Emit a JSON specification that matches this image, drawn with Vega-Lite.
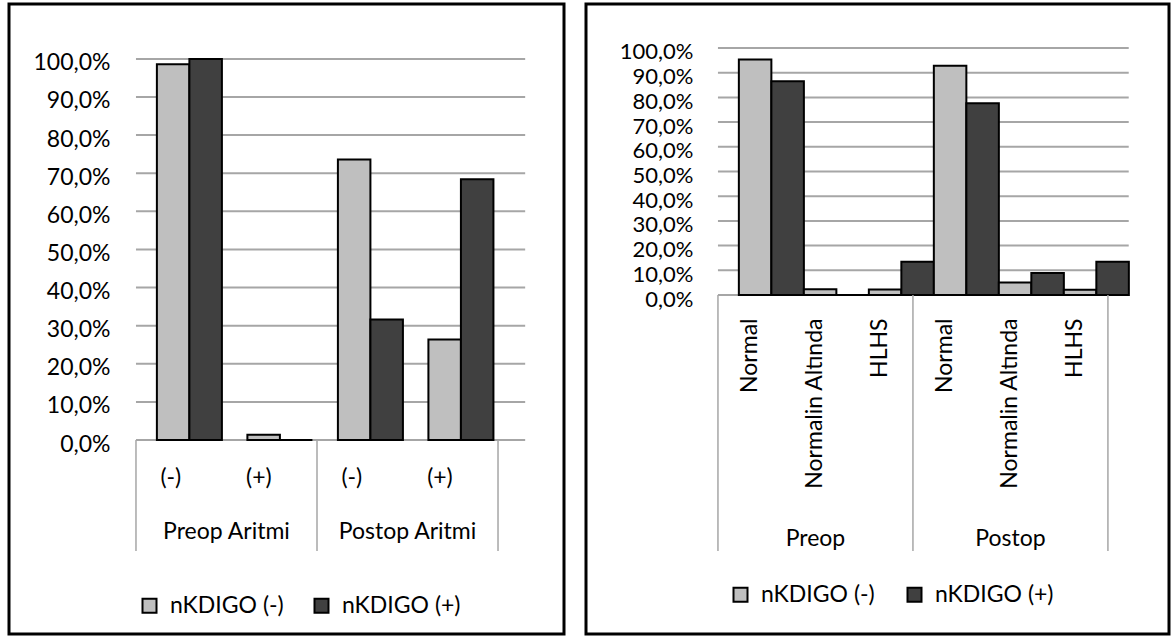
{
  "$schema": "https://vega.github.io/schema/vega-lite/v6.json",
  "padding": {"left": 7, "top": 2, "right": 0, "bottom": 0},
  "spacing": 18,
  "config": {
    "font": "Lato",
    "view": {"stroke": "#000000", "strokeWidth": 3},
    "axis": {"labelFont": "Lato", "labelColor": "#000000"},
    "legend": {"labelFont": "Lato", "labelColor": "#000000"}
  },
  "datasets": {
    "one": [{}],
    "ticks": [{"t": 0}, {"t": 0.1}, {"t": 0.2}, {"t": 0.3}, {"t": 0.4}, {"t": 0.5}, {"t": 0.6}, {"t": 0.7}, {"t": 0.8}, {"t": 0.9}, {"t": 1.0}],
    "left": [
      {"key": "Preop Aritmi|(-)", "series": "nKDIGO (-)", "value": 0.986},
      {"key": "Preop Aritmi|(-)", "series": "nKDIGO (+)", "value": 1.0},
      {"key": "Preop Aritmi|(+)", "series": "nKDIGO (-)", "value": 0.014},
      {"key": "Preop Aritmi|(+)", "series": "nKDIGO (+)", "value": 0.0},
      {"key": "Postop Aritmi|(-)", "series": "nKDIGO (-)", "value": 0.736},
      {"key": "Postop Aritmi|(-)", "series": "nKDIGO (+)", "value": 0.316},
      {"key": "Postop Aritmi|(+)", "series": "nKDIGO (-)", "value": 0.264},
      {"key": "Postop Aritmi|(+)", "series": "nKDIGO (+)", "value": 0.684}
    ],
    "right": [
      {"key": "Preop|Normal", "series": "nKDIGO (-)", "value": 0.953},
      {"key": "Preop|Normal", "series": "nKDIGO (+)", "value": 0.865},
      {"key": "Preop|Normalin Altında", "series": "nKDIGO (-)", "value": 0.023},
      {"key": "Preop|Normalin Altında", "series": "nKDIGO (+)", "value": 0.0},
      {"key": "Preop|HLHS", "series": "nKDIGO (-)", "value": 0.022},
      {"key": "Preop|HLHS", "series": "nKDIGO (+)", "value": 0.135},
      {"key": "Postop|Normal", "series": "nKDIGO (-)", "value": 0.928},
      {"key": "Postop|Normal", "series": "nKDIGO (+)", "value": 0.776},
      {"key": "Postop|Normalin Altında", "series": "nKDIGO (-)", "value": 0.051},
      {"key": "Postop|Normalin Altında", "series": "nKDIGO (+)", "value": 0.089},
      {"key": "Postop|HLHS", "series": "nKDIGO (-)", "value": 0.021},
      {"key": "Postop|HLHS", "series": "nKDIGO (+)", "value": 0.135}
    ]
  },
  "resolve": {"scale": {"color": "independent"}, "legend": {"color": "independent"}},
  "hconcat": [
    {
      "width": 555,
      "height": 630,
      "layer": [
        {
          "data": {"name": "ticks"},
          "mark": {"type": "rule", "color": "#a6a6a6", "strokeWidth": 2},
          "encoding": {
            "y": {"field": "t", "type": "quantitative", "title": null,
              "scale": {"domain": [-0.509, 1.144], "nice": false, "zero": false},
              "axis": {"values": [0, 0.1, 0.2, 0.3, 0.4, 0.5, 0.6, 0.7, 0.8, 0.9, 1.0], "labelExpr": "replace(format(datum.value, '.1%'), '.', ',')", "offset": -109, "domain": false, "ticks": false, "grid": false, "labelPadding": 8, "labelFontSize": 23, "labelOffset": 4, "title": null}},
            "x": {"datum": "Preop Aritmi|(-)", "type": "nominal", "bandPosition": 0,
              "scale": {"domain": [" |", "Preop Aritmi|(-)", "Preop Aritmi|(+)", "Postop Aritmi|(-)", "Postop Aritmi|(+)"], "paddingInner": 0, "paddingOuter": 0.566, "align": 0.356}},
            "x2": {"datum": "Postop Aritmi|(+)", "bandPosition": 1.3}
          }
        },
        {
          "data": {"name": "left"},
          "mark": {"type": "bar", "stroke": "#000000", "strokeWidth": 2},
          "encoding": {
            "x": {"field": "key", "type": "nominal", "sort": null, "title": null,
              "scale": {"domain": [" |", "Preop Aritmi|(-)", "Preop Aritmi|(+)", "Postop Aritmi|(-)", "Postop Aritmi|(+)"], "paddingInner": 0, "paddingOuter": 0.566, "align": 0.356},
              "axis": {"orient": "bottom", "offset": -194, "labelExpr": "split(datum.value, '|')[1]", "labelAngle": 0, "labelPadding": 37, "ticks": false, "domain": false, "grid": false, "labelFontSize": 23, "title": null}},
            "xOffset": {"field": "series", "type": "nominal", "scale": {"domain": ["nKDIGO (-)", "nKDIGO (+)"], "paddingInner": 0, "paddingOuter": 0.392, "align": 0.82}},
            "y": {"field": "value", "type": "quantitative", "title": null,
              "scale": {"domain": [-0.509, 1.144], "nice": false, "zero": false}},
            "color": {"field": "series", "type": "nominal",
              "scale": {"domain": ["nKDIGO (-)", "nKDIGO (+)"], "range": ["#BFBFBF", "#404040"]},
              "legend": {"orient": "none", "legendX": 129, "legendY": 590, "direction": "horizontal", "title": null, "padding": 0, "symbolType": "square", "symbolSize": 196, "symbolStrokeColor": "#000000", "symbolStrokeWidth": 2, "symbolOpacity": 1, "labelFontSize": 23, "labelOffset": 9, "columnPadding": 26}}
          }
        },
        {
          "data": {"name": "one"},
          "mark": {"type": "rule", "color": "#a6a6a6", "strokeWidth": 1.5},
          "encoding": {"x": {"datum": "Preop Aritmi|(-)", "bandPosition": 0}, "y": {"datum": 0}, "y2": {"datum": -0.291}}
        },
        {
          "data": {"name": "one"},
          "mark": {"type": "rule", "color": "#a6a6a6", "strokeWidth": 1.5},
          "encoding": {"x": {"datum": "Postop Aritmi|(-)", "bandPosition": 0}, "y": {"datum": 0}, "y2": {"datum": -0.291}}
        },
        {
          "data": {"name": "one"},
          "mark": {"type": "rule", "color": "#a6a6a6", "strokeWidth": 1.5},
          "encoding": {"x": {"datum": "Postop Aritmi|(+)", "bandPosition": 1}, "y": {"datum": 0}, "y2": {"datum": -0.291}}
        },
        {
          "data": {"name": "one"},
          "mark": {"type": "text", "text": "Preop Aritmi", "fontSize": 23, "align": "center", "baseline": "middle", "color": "#000000"},
          "encoding": {"x": {"datum": "Preop Aritmi|(+)", "bandPosition": 0}, "y": {"datum": -0.2415}}
        },
        {
          "data": {"name": "one"},
          "mark": {"type": "text", "text": "Postop Aritmi", "fontSize": 23, "align": "center", "baseline": "middle", "color": "#000000"},
          "encoding": {"x": {"datum": "Postop Aritmi|(+)", "bandPosition": 0}, "y": {"datum": -0.2415}}
        }
      ]
    },
    {
      "width": 583,
      "height": 630,
      "layer": [
        {
          "data": {"name": "ticks"},
          "mark": {"type": "rule", "color": "#a6a6a6", "strokeWidth": 2},
          "encoding": {
            "y": {"field": "t", "type": "quantitative", "title": null,
              "scale": {"domain": [-1.372, 1.178], "nice": false, "zero": false},
              "axis": {"values": [0, 0.1, 0.2, 0.3, 0.4, 0.5, 0.6, 0.7, 0.8, 0.9, 1.0], "labelExpr": "replace(format(datum.value, '.1%'), '.', ',')", "offset": -115, "domain": false, "ticks": false, "grid": false, "labelPadding": 8, "labelFontSize": 22, "labelOffset": 4, "title": null}},
            "x": {"datum": "Preop|Normal", "type": "nominal", "bandPosition": 0,
              "scale": {"domain": [" |", "Preop|Normal", "Preop|Normalin Altında", "Preop|HLHS", "Postop|Normal", "Postop|Normalin Altında", "Postop|HLHS"], "paddingInner": 0, "paddingOuter": 0.985, "align": 0.523}},
            "x2": {"datum": "Postop|HLHS", "bandPosition": 1.32}
          }
        },
        {
          "data": {"name": "right"},
          "mark": {"type": "bar", "stroke": "#000000", "strokeWidth": 2},
          "encoding": {
            "x": {"field": "key", "type": "nominal", "sort": null, "title": null,
              "scale": {"domain": [" |", "Preop|Normal", "Preop|Normalin Altında", "Preop|HLHS", "Postop|Normal", "Postop|Normalin Altında", "Postop|HLHS"], "paddingInner": 0, "paddingOuter": 0.985, "align": 0.523},
              "axis": {"orient": "bottom", "offset": -339, "labelExpr": "split(datum.value, '|')[1]", "labelAngle": 270, "labelPadding": 23, "ticks": false, "domain": false, "grid": false, "labelFontSize": 23, "title": null}},
            "xOffset": {"field": "series", "type": "nominal", "scale": {"domain": ["nKDIGO (-)", "nKDIGO (+)"], "paddingInner": 0, "paddingOuter": 0.383, "align": 0.83}},
            "y": {"field": "value", "type": "quantitative", "title": null,
              "scale": {"domain": [-1.372, 1.178], "nice": false, "zero": false}},
            "color": {"field": "series", "type": "nominal",
              "scale": {"domain": ["nKDIGO (-)", "nKDIGO (+)"], "range": ["#BFBFBF", "#404040"]},
              "legend": {"orient": "none", "legendX": 143, "legendY": 579, "direction": "horizontal", "title": null, "padding": 0, "symbolType": "square", "symbolSize": 196, "symbolStrokeColor": "#000000", "symbolStrokeWidth": 2, "symbolOpacity": 1, "labelFontSize": 23, "labelOffset": 9, "columnPadding": 28}}
          }
        },
        {
          "data": {"name": "one"},
          "mark": {"type": "rule", "color": "#a6a6a6", "strokeWidth": 1.5},
          "encoding": {"x": {"datum": "Preop|Normal", "bandPosition": 0}, "y": {"datum": 0}, "y2": {"datum": -1.036}}
        },
        {
          "data": {"name": "one"},
          "mark": {"type": "rule", "color": "#a6a6a6", "strokeWidth": 1.5},
          "encoding": {"x": {"datum": "Postop|Normal", "bandPosition": 0}, "y": {"datum": 0}, "y2": {"datum": -1.036}}
        },
        {
          "data": {"name": "one"},
          "mark": {"type": "rule", "color": "#a6a6a6", "strokeWidth": 1.5},
          "encoding": {"x": {"datum": "Postop|HLHS", "bandPosition": 1}, "y": {"datum": 0}, "y2": {"datum": -1.036}}
        },
        {
          "data": {"name": "one"},
          "mark": {"type": "text", "text": "Preop", "fontSize": 23, "align": "center", "baseline": "middle", "color": "#000000"},
          "encoding": {"x": {"datum": "Preop|Normalin Altında"}, "y": {"datum": -0.988}}
        },
        {
          "data": {"name": "one"},
          "mark": {"type": "text", "text": "Postop", "fontSize": 23, "align": "center", "baseline": "middle", "color": "#000000"},
          "encoding": {"x": {"datum": "Postop|Normalin Altında"}, "y": {"datum": -0.988}}
        }
      ]
    }
  ]
}
